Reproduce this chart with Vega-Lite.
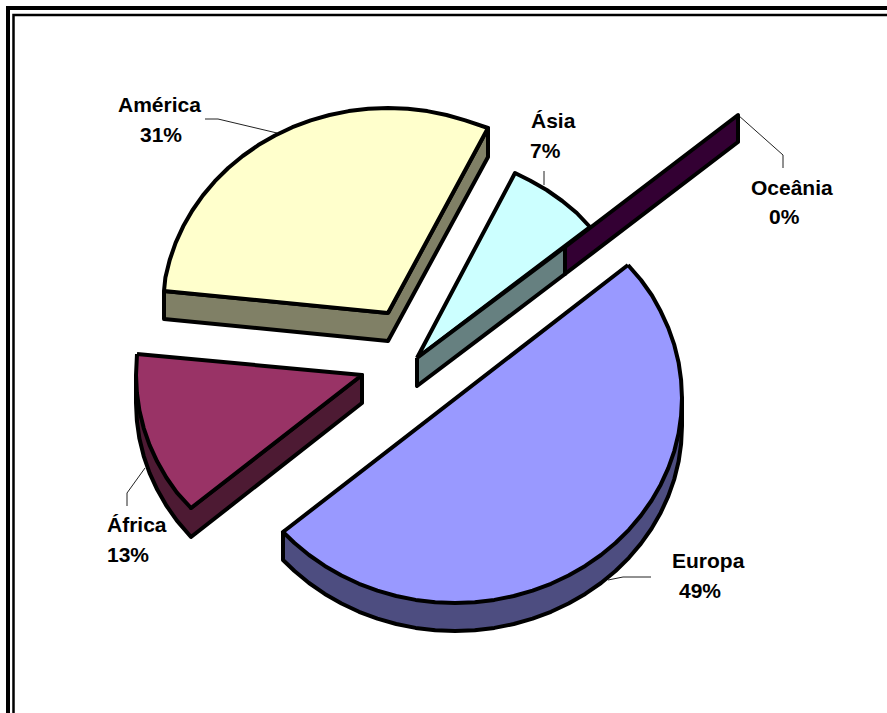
{"$schema":"https://vega.github.io/schema/vega-lite/v6.json","width":887,"height":713,"autosize":{"type":"fit","contains":"padding"},"padding":0,"background":"white","view":{"stroke":null},
"datasets":{
"slices":[
{"part":"Europa lado","i":0,"x":283,"y":532},{"part":"Europa lado","i":1,"x":283,"y":560},{"part":"Europa lado","i":2,"x":294.5,"y":571},{"part":"Europa lado","i":3,"x":309,"y":583},{"part":"Europa lado","i":4,"x":324.8,"y":593.9},{"part":"Europa lado","i":5,"x":341.5,"y":603.5},{"part":"Europa lado","i":6,"x":359,"y":611.8},{"part":"Europa lado","i":7,"x":377.4,"y":618.6},{"part":"Europa lado","i":8,"x":396.2,"y":624},{"part":"Europa lado","i":9,"x":415.6,"y":627.9},{"part":"Europa lado","i":10,"x":435.2,"y":630.2},{"part":"Europa lado","i":11,"x":455,"y":631},{"part":"Europa lado","i":12,"x":474.8,"y":630.2},{"part":"Europa lado","i":13,"x":494.4,"y":627.9},{"part":"Europa lado","i":14,"x":513.8,"y":624},{"part":"Europa lado","i":15,"x":532.6,"y":618.6},{"part":"Europa lado","i":16,"x":551,"y":611.8},{"part":"Europa lado","i":17,"x":568.5,"y":603.5},{"part":"Europa lado","i":18,"x":585.2,"y":593.9},{"part":"Europa lado","i":19,"x":601,"y":583},{"part":"Europa lado","i":20,"x":615.5,"y":571},{"part":"Europa lado","i":21,"x":628.9,"y":557.8},{"part":"Europa lado","i":22,"x":640.9,"y":543.6},{"part":"Europa lado","i":23,"x":651.6,"y":528.5},{"part":"Europa lado","i":24,"x":660.7,"y":512.7},{"part":"Europa lado","i":25,"x":668.3,"y":496.1},{"part":"Europa lado","i":26,"x":674.3,"y":479.1},{"part":"Europa lado","i":27,"x":678.6,"y":461.6},{"part":"Europa lado","i":28,"x":681.1,"y":443.9},{"part":"Europa lado","i":29,"x":682,"y":426},{"part":"Europa lado","i":30,"x":682,"y":398},{"part":"Europa lado","i":31,"x":283,"y":532},
{"part":"Europa topo","i":0,"x":628,"y":265},{"part":"Europa topo","i":1,"x":641,"y":280},{"part":"Europa topo","i":2,"x":652,"y":295.5},{"part":"Europa topo","i":3,"x":660.7,"y":311.3},{"part":"Europa topo","i":4,"x":668.3,"y":327.9},{"part":"Europa topo","i":5,"x":674.3,"y":344.9},{"part":"Europa topo","i":6,"x":678.6,"y":362.4},{"part":"Europa topo","i":7,"x":681.1,"y":380.1},{"part":"Europa topo","i":8,"x":682,"y":398},{"part":"Europa topo","i":9,"x":681.1,"y":415.9},{"part":"Europa topo","i":10,"x":678.6,"y":433.6},{"part":"Europa topo","i":11,"x":674.3,"y":451.1},{"part":"Europa topo","i":12,"x":668.3,"y":468.1},{"part":"Europa topo","i":13,"x":660.7,"y":484.7},{"part":"Europa topo","i":14,"x":651.6,"y":500.5},{"part":"Europa topo","i":15,"x":640.9,"y":515.6},{"part":"Europa topo","i":16,"x":628.9,"y":529.8},{"part":"Europa topo","i":17,"x":615.5,"y":543},{"part":"Europa topo","i":18,"x":601,"y":555},{"part":"Europa topo","i":19,"x":585.2,"y":565.9},{"part":"Europa topo","i":20,"x":568.5,"y":575.5},{"part":"Europa topo","i":21,"x":551,"y":583.8},{"part":"Europa topo","i":22,"x":532.6,"y":590.6},{"part":"Europa topo","i":23,"x":513.8,"y":596},{"part":"Europa topo","i":24,"x":494.4,"y":599.9},{"part":"Europa topo","i":25,"x":474.8,"y":602.2},{"part":"Europa topo","i":26,"x":455,"y":603},{"part":"Europa topo","i":27,"x":435.2,"y":602.2},{"part":"Europa topo","i":28,"x":415.6,"y":599.9},{"part":"Europa topo","i":29,"x":396.2,"y":596},{"part":"Europa topo","i":30,"x":377.4,"y":590.6},{"part":"Europa topo","i":31,"x":359,"y":583.8},{"part":"Europa topo","i":32,"x":341.5,"y":575.5},{"part":"Europa topo","i":33,"x":324.8,"y":565.9},{"part":"Europa topo","i":34,"x":309,"y":555},{"part":"Europa topo","i":35,"x":294.5,"y":543},{"part":"Europa topo","i":36,"x":283,"y":532},{"part":"Europa topo","i":37,"x":628,"y":265},
{"part":"América lado","i":0,"x":164,"y":291},{"part":"América lado","i":1,"x":388,"y":313},{"part":"América lado","i":2,"x":488,"y":128},{"part":"América lado","i":3,"x":488,"y":157},{"part":"América lado","i":4,"x":388,"y":341},{"part":"América lado","i":5,"x":164,"y":319},{"part":"América lado","i":6,"x":164,"y":291},
{"part":"América topo","i":0,"x":388,"y":313},{"part":"América topo","i":1,"x":164,"y":291},{"part":"América topo","i":2,"x":165.4,"y":277.4},{"part":"América topo","i":3,"x":169.7,"y":260},{"part":"América topo","i":4,"x":175.6,"y":242.9},{"part":"América topo","i":5,"x":183.2,"y":226.3},{"part":"América topo","i":6,"x":192.3,"y":210.5},{"part":"América topo","i":7,"x":202.9,"y":195.4},{"part":"América topo","i":8,"x":214.9,"y":181.2},{"part":"América topo","i":9,"x":228.2,"y":168},{"part":"América topo","i":10,"x":242.7,"y":156},{"part":"América topo","i":11,"x":258.3,"y":145.1},{"part":"América topo","i":12,"x":275,"y":135.5},{"part":"América topo","i":13,"x":292.4,"y":127.2},{"part":"América topo","i":14,"x":310.7,"y":120.4},{"part":"América topo","i":15,"x":329.5,"y":115},{"part":"América topo","i":16,"x":348.7,"y":111.1},{"part":"América topo","i":17,"x":368.3,"y":108.8},{"part":"América topo","i":18,"x":388,"y":108},{"part":"América topo","i":19,"x":407.7,"y":108.8},{"part":"América topo","i":20,"x":427.3,"y":111.1},{"part":"América topo","i":21,"x":446.5,"y":115},{"part":"América topo","i":22,"x":465.3,"y":120.4},{"part":"América topo","i":23,"x":488,"y":128},{"part":"América topo","i":24,"x":388,"y":313},
{"part":"África lado","i":0,"x":136,"y":375},{"part":"África lado","i":1,"x":136,"y":403},{"part":"África lado","i":2,"x":136.9,"y":420.9},{"part":"África lado","i":3,"x":139.4,"y":438.6},{"part":"África lado","i":4,"x":143.7,"y":456.1},{"part":"África lado","i":5,"x":149.6,"y":473.1},{"part":"África lado","i":6,"x":157.2,"y":489.6},{"part":"África lado","i":7,"x":166.3,"y":505.5},{"part":"África lado","i":8,"x":176.9,"y":520.6},{"part":"África lado","i":9,"x":191,"y":537},{"part":"África lado","i":10,"x":362,"y":403},{"part":"África lado","i":11,"x":362,"y":375},{"part":"África lado","i":12,"x":191,"y":508},{"part":"África lado","i":13,"x":136,"y":375},
{"part":"África topo","i":0,"x":137,"y":354},{"part":"África topo","i":1,"x":362,"y":375},{"part":"África topo","i":2,"x":191,"y":508},{"part":"África topo","i":3,"x":176.9,"y":492.6},{"part":"África topo","i":4,"x":166.3,"y":477.5},{"part":"África topo","i":5,"x":157.2,"y":461.6},{"part":"África topo","i":6,"x":149.6,"y":445.1},{"part":"África topo","i":7,"x":143.7,"y":428.1},{"part":"África topo","i":8,"x":139.4,"y":410.6},{"part":"África topo","i":9,"x":136.9,"y":392.9},{"part":"África topo","i":10,"x":136,"y":375},{"part":"África topo","i":11,"x":137,"y":354},
{"part":"Ásia topo","i":0,"x":417,"y":358},{"part":"Ásia topo","i":1,"x":515,"y":173},{"part":"Ásia topo","i":2,"x":530,"y":180.5},{"part":"Ásia topo","i":3,"x":546.7,"y":190},{"part":"Ásia topo","i":4,"x":562.3,"y":201},{"part":"Ásia topo","i":5,"x":576.8,"y":213},{"part":"Ásia topo","i":6,"x":590,"y":227},{"part":"Ásia topo","i":7,"x":417,"y":358},
{"part":"Ásia lado","i":0,"x":417,"y":358},{"part":"Ásia lado","i":1,"x":565,"y":247},{"part":"Ásia lado","i":2,"x":565,"y":274},{"part":"Ásia lado","i":3,"x":417,"y":386},{"part":"Ásia lado","i":4,"x":417,"y":358},
{"part":"Oceânia lado","i":0,"x":565,"y":247},{"part":"Oceânia lado","i":1,"x":738,"y":115},{"part":"Oceânia lado","i":2,"x":738,"y":142},{"part":"Oceânia lado","i":3,"x":565,"y":274},{"part":"Oceânia lado","i":4,"x":565,"y":247}
],
"leaders":[
{"name":"América","i":0,"x":205,"y":119},{"name":"América","i":1,"x":218,"y":119},{"name":"América","i":2,"x":277,"y":133},
{"name":"Ásia","i":0,"x":544,"y":171},{"name":"Ásia","i":1,"x":544,"y":185},
{"name":"Oceânia","i":0,"x":738,"y":115},{"name":"Oceânia","i":1,"x":783,"y":155},{"name":"Oceânia","i":2,"x":783,"y":168},
{"name":"África","i":0,"x":145,"y":468},{"name":"África","i":1,"x":127,"y":493},{"name":"África","i":2,"x":127,"y":506},
{"name":"Europa","i":0,"x":608,"y":580},{"name":"Europa","i":1,"x":623,"y":577},{"name":"Europa","i":2,"x":651,"y":577}
],
"labels":[
{"text":"América","x":118,"y":112},{"text":"31%","x":140,"y":142},
{"text":"Ásia","x":531,"y":128},{"text":"7%","x":530,"y":158},
{"text":"Oceânia","x":751,"y":195},{"text":"0%","x":769,"y":224},
{"text":"África","x":107,"y":532},{"text":"13%","x":107,"y":562},
{"text":"Europa","x":672,"y":568},{"text":"49%","x":679,"y":598}
],
"frameOuter":[{"i":0,"x":8,"y":713},{"i":1,"x":8,"y":8},{"i":2,"x":887,"y":8}],
"frameInner":[{"i":0,"x":13.5,"y":713},{"i":1,"x":13.5,"y":15},{"i":2,"x":887,"y":15}]
},
"encoding":{
"x":{"field":"x","type":"quantitative","scale":{"domain":[0,887],"nice":false,"zero":false},"axis":null},
"y":{"field":"y","type":"quantitative","scale":{"domain":[713,0],"nice":false,"zero":false},"axis":null}
},
"layer":[
{"data":{"name":"frameOuter"},"mark":{"type":"line","stroke":"black","strokeWidth":4,"strokeJoin":"miter","clip":true},"encoding":{"order":{"field":"i"}}},
{"data":{"name":"frameInner"},"mark":{"type":"line","stroke":"black","strokeWidth":2.5,"strokeJoin":"miter","clip":true},"encoding":{"order":{"field":"i"}}},
{"data":{"name":"leaders"},"mark":{"type":"line","stroke":"#222222","strokeWidth":1},"encoding":{"detail":{"field":"name"},"order":{"field":"i"}}},
{"data":{"name":"slices"},"mark":{"type":"line","stroke":"black","strokeWidth":4,"strokeJoin":"round"},"encoding":{"order":{"field":"i"},
"fill":{"field":"part","type":"nominal","legend":null,"sort":null,"scale":{"domain":["Europa lado","Europa topo","América lado","América topo","África lado","África topo","Ásia topo","Ásia lado","Oceânia lado"],"range":["#4D4D80","#9999FF","#808066","#FFFFCC","#4D1A33","#993366","#CCFFFF","#668080","#330033"]}}}},
{"data":{"name":"labels"},"mark":{"type":"text","font":"Liberation Sans","fontWeight":"bold","fontSize":21,"align":"left","baseline":"alphabetic","fill":"black"},"encoding":{"text":{"field":"text"}}}
]}
